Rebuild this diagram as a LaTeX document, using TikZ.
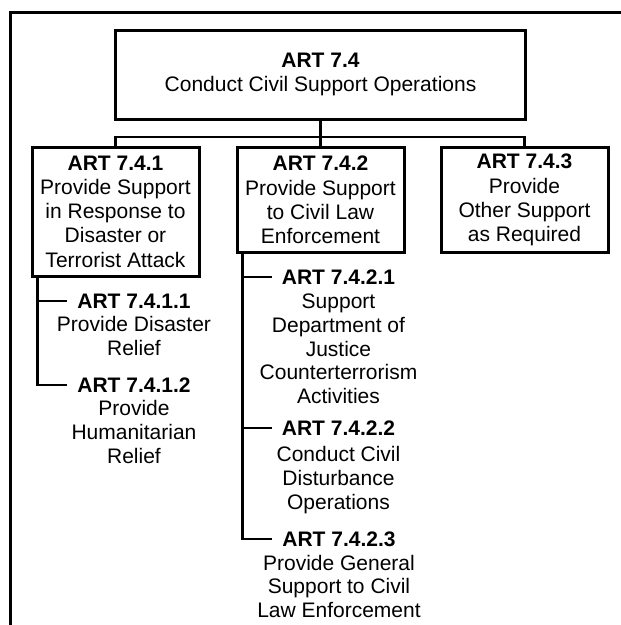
\documentclass[tikz,border=0pt]{standalone}
\usepackage{fontspec}
\setmainfont{Liberation Sans}
\begin{document}
\begin{tikzpicture}[x=1pt,y=-1pt,line join=miter,
  frame/.style={line width=3pt},
  box/.style={draw,line width=3pt,align=center,inner sep=0pt,minimum width=167pt,
    font=\fontsize{21}{24.2}\selectfont},
  conn/.style={line width=2.9pt},
  lbl/.style={inner sep=0pt,font=\bfseries\fontsize{21}{24}\selectfont},
  desc/.style={inner sep=0pt,align=center,anchor=north,font=\fontsize{21}{23.8}\selectfont}]
\useasboundingbox (0,0) rectangle (621,625);
\begin{scope}
\clip (0,0) rectangle (621,625);
\draw[frame] (10.3,640) -- (10.3,12.3) -- (640,12.3);
\end{scope}

\node[box,minimum width=410pt,minimum height=89pt] (top) at (320.5,74.5)
  {\textbf{ART 7.4}\\Conduct Civil Support Operations};
\node[box,minimum height=129pt] (b1) at (115.5,211.5)
  {\textbf{ART 7.4.1}\\Provide Support\\in Response to\\Disaster or\\Terrorist Attack};
\node[box,minimum height=105pt] (b2) at (320.5,200)
  {\textbf{ART 7.4.2}\\Provide Support\\to Civil Law\\Enforcement};
\node[box,minimum height=105pt] (b3) at (524.5,200)
  {\textbf{ART 7.4.3}\\Provide\\Other Support\\as Required};

\coordinate (bus) at (320.5,137);
\draw[conn] (top.south) -- (b2.north);
\draw[conn] (b1.north) |- (bus) -| (b3.north);

% leaves under 7.4.1
\node[lbl] (l11) at (134,301) {ART 7.4.1.1};
\node[desc] (d11) at ([yshift=-8pt]l11.south) {Provide Disaster\\Relief};
\node[lbl] (l12) at (134,385) {ART 7.4.1.2};
\node[desc] (d12) at ([yshift=-8pt]l12.south) {Provide\\Humanitarian\\Relief};

\coordinate (s1) at ([xshift=7pt]b1.south west);
\draw[conn] (s1) |- ([xshift=-10pt]l12.west);
\draw[conn] (s1 |- l11) -- ([xshift=-10pt]l11.west);

% leaves under 7.4.2
\node[lbl] (l21) at (338.5,277) {ART 7.4.2.1};
\node[desc] (d21) at ([yshift=-9pt]l21.south) {Support\\Department of\\Justice\\Counterterrorism\\Activities};
\node[lbl] (l22) at (338.5,428) {ART 7.4.2.2};
\node[desc] (d22) at ([yshift=-11pt]l22.south) {Conduct Civil\\Disturbance\\Operations};
\node[lbl] (l23) at (339,539) {ART 7.4.2.3};
\node[desc] (d23) at ([yshift=-8pt]l23.south) {Provide General\\Support to Civil\\Law Enforcement};

\coordinate (s2) at ([xshift=7pt]b2.south west);
\draw[conn] (s2) |- ([xshift=-10pt]l23.west);
\draw[conn] (s2 |- l21) -- ([xshift=-10pt]l21.west);
\draw[conn] (s2 |- l22) -- ([xshift=-10pt]l22.west);
\end{tikzpicture}
\end{document}
